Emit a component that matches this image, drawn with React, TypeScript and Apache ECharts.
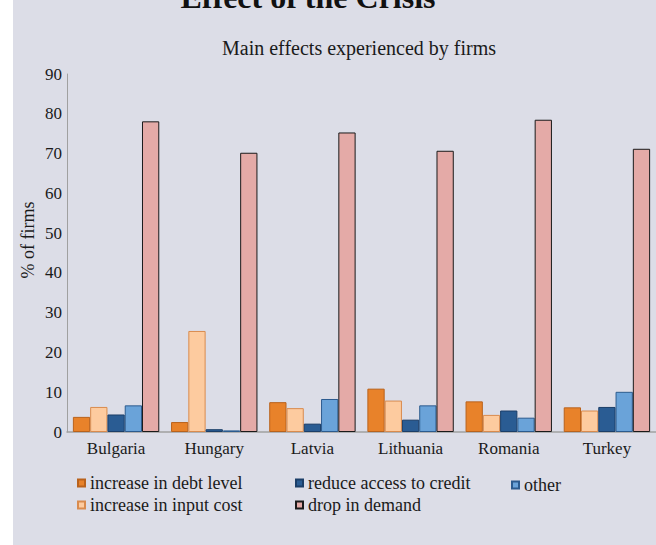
import React, { useEffect, useRef } from "react";
import * as echarts from "echarts";

const categories = ["Bulgaria", "Hungary", "Latvia", "Lithuania", "Romania", "Turkey"];
const seriesNames = [
  "increase in debt level",
  "increase in input cost",
  "reduce access to credit",
  "other",
  "drop in demand",
];
const debtLevel = [3.8, 2.5, 7.5, 10.9, 7.7, 6.2];
const inputCost = [6.3, 25.4, 6.0, 7.9, 4.3, 5.4];
const accessCredit = [4.4, 0.7, 2.1, 3.1, 5.4, 6.3];
const other = [6.7, 0.4, 8.3, 6.7, 3.6, 10.1];
const dropDemand = [78.1, 70.2, 75.3, 70.7, 78.5, 71.2];

const fills = ["#e8822a", "#fdcb9f", "#2a5c93", "#6aa3d9", "#e4aaa7"];
const borders = ["#b9621c", "#d98b4e", "#1b3e68", "#2c5b8e", "#1a1a1a"];

const FONT = "'Liberation Serif', 'DejaVu Serif', serif";

export default function App() {
  const ref = useRef<HTMLDivElement>(null);
  useEffect(() => {
    document.body.style.margin = "0";
    document.body.style.background = "#ffffff";
    const chart = echarts.init(ref.current!, undefined, { renderer: "svg" });
    const values = [debtLevel, inputCost, accessCredit, other, dropDemand];
    const legendPos = [
      { name: seriesNames[0], left: 64, top: 474 },
      { name: seriesNames[1], left: 64, top: 496 },
      { name: seriesNames[2], left: 282, top: 474 },
      { name: seriesNames[4], left: 282, top: 496 },
      { name: seriesNames[3], left: 498, top: 476 },
    ];
    chart.setOption({
      animation: false,
      backgroundColor: "transparent",
      textStyle: { fontFamily: FONT },
      graphic: [
        {
          type: "text",
          x: 295,
          y: 13,
          style: {
            text: "Effect of the Crisis",
            font: `bold 32px ${FONT}`,
            fill: "#111",
            textAlign: "center",
            textVerticalAlign: "bottom",
          },
        },
        {
          type: "text",
          x: 346,
          y: 48,
          style: {
            text: "Main effects experienced by firms",
            font: `20px ${FONT}`,
            fill: "#1a1a1a",
            textAlign: "center",
            textVerticalAlign: "middle",
          },
        },
        {
          type: "text",
          x: 15,
          y: 240,
          rotation: Math.PI / 2,
          style: {
            text: "% of firms",
            font: `18px ${FONT}`,
            fill: "#1a1a1a",
            textAlign: "center",
            textVerticalAlign: "middle",
          },
        },
      ],
      legend: legendPos.map((l) => ({
        data: [l.name],
        left: l.left,
        top: l.top,
        padding: 0,
        icon: "rect",
        itemWidth: 7,
        itemHeight: 7,
        textStyle: { fontSize: 18, color: "#1a1a1a", fontFamily: FONT },
        selectedMode: false,
      })),
      grid: { left: 54, top: 74, width: 600, height: 358, containLabel: false },
      xAxis: {
        type: "category",
        data: categories,
        axisLine: { show: true, lineStyle: { color: "#a0a0a0", width: 1.5 } },
        axisTick: { show: false },
        axisLabel: { fontSize: 17, color: "#1a1a1a", margin: 8, fontFamily: FONT },
      },
      yAxis: {
        type: "value",
        min: 0,
        max: 90,
        interval: 10,
        axisLine: { show: true, lineStyle: { color: "#a0a0a0", width: 1 } },
        axisTick: { show: false },
        splitLine: { show: false },
        axisLabel: { fontSize: 17, color: "#1a1a1a", margin: 5, fontFamily: FONT },
      },
      series: seriesNames.map((name, i) => ({
        name,
        type: "bar",
        data: values[i],
        barGap: "0%",
        barCategoryGap: "12%",
        itemStyle: { color: fills[i], borderColor: borders[i], borderWidth: 1 },
      })),
    });
    return () => chart.dispose();
  }, []);
  return (
    <div
      style={{ position: "absolute", left: 0, top: 0, width: 656, height: 545, background: "#ffffff", overflow: "hidden" }}
    >
      <div
        ref={ref}
        style={{ position: "absolute", left: 13, top: 0, width: 643, height: 545, background: "#dcdde7" }}
      />
    </div>
  );
}
